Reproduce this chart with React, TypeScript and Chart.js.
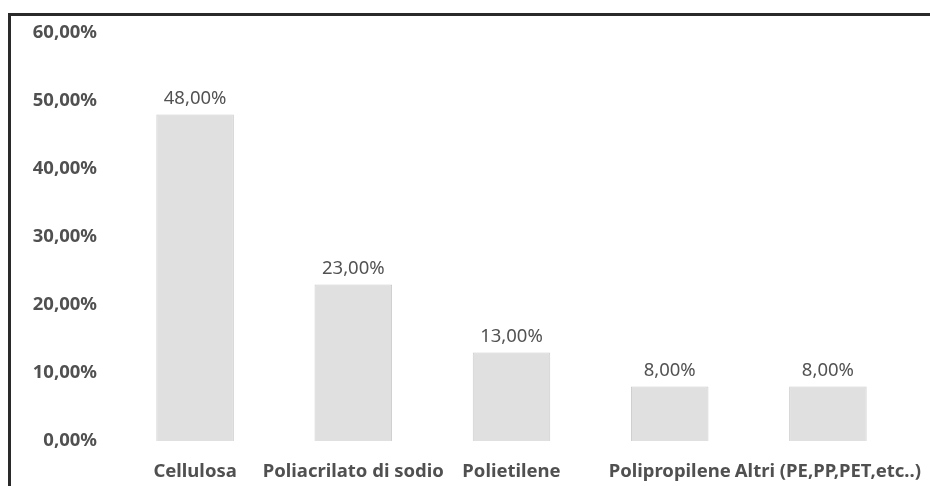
import React, { useEffect, useRef } from "react";
import { Chart, registerables } from "chart.js";

Chart.register(...registerables);

const categories = [
  "Cellulosa",
  "Poliacrilato di sodio",
  "Polietilene",
  "Polipropilene",
  "Altri (PE,PP,PET,etc..)",
];
const values = [48, 23, 13, 8, 8];
const yTicks = [0, 10, 20, 30, 40, 50, 60];

const fmt = (v: number) => v.toFixed(2).replace(".", ",") + "%";

const framePlugin = {
  id: "frame",
  afterDraw(chart: any) {
    const ctx = chart.ctx;
    ctx.save();
    ctx.fillStyle = "#2a2a2a";
    ctx.fillRect(8, 13, 922, 3);
    ctx.fillRect(8, 13, 3, 480);
    ctx.restore();
  },
};

const labelPlugin = {
  id: "barLabels",
  afterDatasetsDraw(chart: any) {
    const ctx = chart.ctx;
    const meta = chart.getDatasetMeta(0);
    ctx.save();
    ctx.font = "18.5px 'Noto Sans'";
    ctx.fillStyle = "#525252";
    ctx.textAlign = "center";
    ctx.textBaseline = "bottom";
    meta.data.forEach((bar: any, i: number) => {
      ctx.fillText(fmt(values[i]), bar.x, bar.y - 7);
    });
    ctx.restore();
  },
};

export default function App() {
  const ref = useRef<HTMLCanvasElement>(null);
  useEffect(() => {
    const chart = new Chart(ref.current!, {
      type: "bar",
      data: {
        labels: categories,
        datasets: [
          {
            data: values,
            backgroundColor: "#e0e0e0",
            borderColor: "#cbcbcb",
            borderWidth: 1,
            categoryPercentage: 1,
            barPercentage: 0.49,
          },
        ],
      },
      options: {
        animation: false,
        responsive: false,
        maintainAspectRatio: false,
        layout: { padding: { top: 33, right: 23, bottom: 0, left: 0 } },
        plugins: { legend: { display: false }, tooltip: { enabled: false } },
        scales: {
          x: {
            grid: { display: false, drawTicks: false },
            border: { display: false },
            ticks: {
              autoSkip: false,
              maxRotation: 0,
              minRotation: 0,
              padding: 20,
              color: "#505050",
              font: { family: "'Noto Sans'", size: 18.5, weight: "bold" },
            },
            afterFit: (s: any) => {
              s.height = 45;
              s.paddingLeft = 0;
              s.paddingRight = 0;
            },
          },
          y: {
            min: 0,
            max: 60,
            afterBuildTicks: (s: any) => {
              s.ticks = yTicks.map((v) => ({ value: v }));
            },
            grid: { display: false, drawTicks: false },
            border: { display: false },
            ticks: {
              padding: 19,
              color: "#505050",
              font: { family: "'Noto Sans'", size: 18.5, weight: "bold" },
              callback: (v: any) => fmt(Number(v)),
            },
            afterFit: (s: any) => {
              s.width = 116;
              s.paddingTop = 0;
              s.paddingBottom = 0;
            },
          },
        },
      },
      plugins: [framePlugin, labelPlugin],
    });
    return () => chart.destroy();
  }, []);
  return (
    <div style={{ position: "absolute", left: 0, top: 0, width: 930, height: 486, background: "#fff" }}>
      <canvas ref={ref} width={930} height={486} />
    </div>
  );
}
